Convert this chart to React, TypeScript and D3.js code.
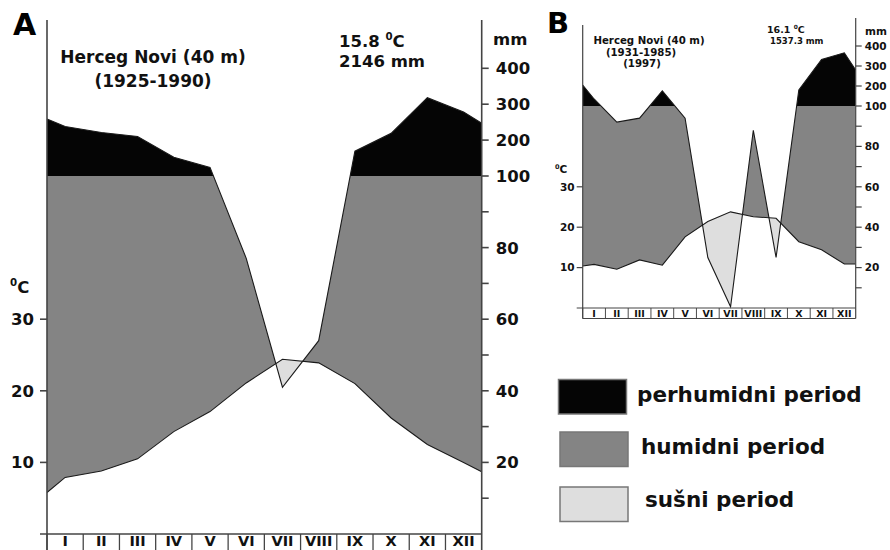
import React from 'react';
import * as d3 from 'd3';

// month labels and values
const MONTHS = ['I', 'II', 'III', 'IV', 'V', 'VI', 'VII', 'VIII', 'IX', 'X', 'XI', 'XII'];

// panel A: Herceg Novi 1925-1990
const TEMP_A = [7.9, 8.8, 10.5, 14.3, 17.1, 21.1, 24.4, 23.9, 21.0, 16.2, 12.5, 10.0];
const TEMP_A_EDGES = [5.8, 8.7];
const PREC_A = [238, 221, 210, 152, 124, 77, 41, 54, 169, 219, 318, 278];
const PREC_A_EDGES = [259, 247];

// panel B: Herceg Novi 1931-1985 (1997)
const TEMP_B = [10.8, 9.6, 11.9, 10.6, 17.6, 21.4, 23.8, 22.6, 22.2, 16.4, 14.4, 10.9];
const TEMP_B_EDGES = [10.4, 10.9];
const PREC_B = [135, 92, 94, 176, 94, 25, 0.6, 88, 25, 180, 333, 366];
const PREC_B_EDGES = [205, 280];

const TEMP_TICKS = [10, 20, 30];
const PREC_TICKS = [20, 40, 60, 80, 100, 200, 300, 400];
const PREC_MINOR = [10, 30, 50, 70, 90];

const LEGEND = ['perhumidni period', 'humidni period', 'sušni period'];

const FONT = '"DejaVu Sans", Verdana, sans-serif';
const C_PER = '#050505';
const C_HUM = '#848484';
const C_ARID = '#dedede';
const C_LINE = '#1a1a1a';
const C_AXIS = '#444';

function Panel(props) {
  const { id, g, temp, tempEdges, prec, precEdges, title, stats } = props;

  const x = d3.scaleLinear().domain([0, 12]).range([g.left, g.right]);
  const yT = d3.scaleLinear().domain([0, 50]).range([g.base, g.y100]);
  const yP = d3.scaleLinear().domain([0, 100, 400]).range([g.base, g.y100, g.y400]);

  const xs = [0].concat(MONTHS.map((m, i) => i + 0.5), [12]);
  const tv = [tempEdges[0]].concat(temp, [tempEdges[1]]);
  const pv = [precEdges[0]].concat(prec, [precEdges[1]]);
  const pts = xs.map((d, i) => ({ x: x(d), t: yT(tv[i]), p: yP(pv[i]) }));

  const tLine = d3.line().x(d => d.x).y(d => d.t)(pts);
  const pLine = d3.line().x(d => d.x).y(d => d.p)(pts);
  const aboveT = d3.area().x(d => d.x).y0(0).y1(d => d.t)(pts);
  const aboveP = d3.area().x(d => d.x).y0(0).y1(d => d.p)(pts);
  const belowP = d3.area().x(d => d.x).y0(g.base).y1(d => d.p)(pts);
  const belowT = d3.area().x(d => d.x).y0(g.base).y1(d => d.t)(pts);
  const perArea = d3.area().x(d => d.x).y0(g.y100).y1(d => d.p)(pts);

  // keep the 100 mm cut on a whole pixel so no seam shows in the white
  const y100 = Math.round(yP(100));
  const w = g.right - g.left;

  return (
    <g>
      <defs>
        <clipPath id={'aboveT-' + id}><path d={aboveT} /></clipPath>
        <clipPath id={'aboveP-' + id}><path d={aboveP} /></clipPath>
        <clipPath id={'below100-' + id}><rect x={g.left} y={y100} width={w} height={g.base - y100} /></clipPath>
        <clipPath id={'above100-' + id}><rect x={g.left} y={0} width={w} height={y100} /></clipPath>
      </defs>

      {/* humid: between temperature and precipitation (max 100 mm) */}
      <g clipPath={'url(#below100-' + id + ')'}>
        <path d={belowP} fill={C_HUM} clipPath={'url(#aboveT-' + id + ')'} />
      </g>
      {/* arid: temperature above precipitation */}
      <path d={belowT} fill={C_ARID} clipPath={'url(#aboveP-' + id + ')'} />
      {/* perhumid: above 100 mm */}
      <g clipPath={'url(#above100-' + id + ')'}>
        <path d={perArea} fill={C_PER} />
      </g>

      <path d={pLine} fill="none" stroke={C_LINE} strokeWidth={1.1} />
      <path d={tLine} fill="none" stroke={C_LINE} strokeWidth={1.1} />

      {/* axes */}
      <line x1={g.left} x2={g.left} y1={g.leftTop} y2={g.rowBottom} stroke={C_AXIS} strokeWidth={g.axisW} />
      <line x1={g.right} x2={g.right} y1={g.rightTop} y2={g.rowBottom} stroke={C_AXIS} strokeWidth={g.axisW} />
      <line x1={g.left - g.tick} x2={g.right} y1={g.base} y2={g.base} stroke={C_AXIS} strokeWidth={g.axisW} />
      {g.boxed && <line x1={g.left} x2={g.right} y1={g.rowBottom} y2={g.rowBottom} stroke={C_AXIS} strokeWidth={g.axisW} />}
      {MONTHS.map((m, i) => (
        <g key={m}>
          <line x1={x(i)} x2={x(i)} y1={g.base} y2={g.rowBottom} stroke={C_AXIS} strokeWidth={g.axisW * 0.8} />
          <text x={x(i + 0.5)} y={g.monthY} textAnchor="middle" fontFamily={FONT} fontWeight="bold" fontSize={g.monthFs} fill="#111">{m}</text>
        </g>
      ))}

      {TEMP_TICKS.map(t => (
        <g key={'t' + t}>
          <line x1={g.left - g.tick} x2={g.left} y1={yT(t)} y2={yT(t)} stroke={C_AXIS} strokeWidth={g.axisW} />
          <text x={g.left - g.tick - g.gapL} y={yT(t)} dy="0.36em" textAnchor="end" fontFamily={FONT} fontWeight="bold" fontSize={g.axisFs} fill="#111">{t}</text>
        </g>
      ))}
      <text x={g.degX} y={g.degY} fontFamily={FONT} fontWeight="bold" fontSize={g.axisFs} fill="#111">
        <tspan fontSize={g.axisFs * 0.62} dy={-g.axisFs * 0.42}>0</tspan>
        <tspan dy={g.axisFs * 0.42}>C</tspan>
      </text>

      {PREC_TICKS.map(p => (
        <g key={'p' + p}>
          <line x1={g.right} x2={g.right + g.tick} y1={yP(p)} y2={yP(p)} stroke={C_AXIS} strokeWidth={g.axisW} />
          <text x={g.right + g.tick + g.gapR} y={yP(p)} dy="0.36em" fontFamily={FONT} fontWeight="bold" fontSize={g.axisFs} fill="#111">{p}</text>
        </g>
      ))}
      {PREC_MINOR.map(p => (
        <line key={'m' + p} x1={g.right} x2={g.right + g.tick} y1={yP(p)} y2={yP(p)} stroke={C_AXIS} strokeWidth={g.axisW} />
      ))}
      <text x={g.mmX} y={g.mmY} fontFamily={FONT} fontWeight="bold" fontSize={g.axisFs} fill="#111">mm</text>

      <text x={g.letterX} y={g.letterY} fontFamily={FONT} fontWeight="bold" fontSize={g.letterFs} fill="#000">{id}</text>
      {title.map((s, i) => (
        <text key={s} x={g.titleX[i]} y={g.titleY[i]} textAnchor="middle" fontFamily={FONT} fontWeight="bold" fontSize={g.titleFs} fill="#111">{s}</text>
      ))}
      <text x={g.statX[0]} y={g.statY[0]} fontFamily={FONT} fontWeight="bold" fontSize={g.statFs[0]} fill="#111">
        {stats[0] + ' '}
        <tspan fontSize={g.statFs[0] * 0.62} dy={-g.statFs[0] * 0.42}>0</tspan>
        <tspan dy={g.statFs[0] * 0.42}>C</tspan>
      </text>
      <text x={g.statX[1]} y={g.statY[1]} fontFamily={FONT} fontWeight="bold" fontSize={g.statFs[1]} fill="#111">{stats[1]}</text>
    </g>
  );
}

const GEO_A = {
  left: 47, right: 481.7, base: 534, y100: 176, y400: 68.3,
  leftTop: 20, rightTop: 20, rowBottom: 560, boxed: false,
  axisW: 1.6, tick: 7, gapL: 6, gapR: 7, axisFs: 16.5,
  monthY: 546, monthFs: 14.5,
  degX: 10, degY: 293, mmX: 493, mmY: 45,
  letterX: 13, letterY: 35, letterFs: 30,
  titleX: [153, 153], titleY: [63, 87], titleFs: 17,
  statX: [339, 339], statY: [47, 67], statFs: [16.5, 16.5],
};

const GEO_B = {
  left: 582.7, right: 855.7, base: 308, y100: 106, y400: 46,
  leftTop: 25, rightTop: 18, rowBottom: 318.5, boxed: true,
  axisW: 1.2, tick: 6, gapL: 2, gapR: 3, axisFs: 10.5,
  monthY: 316.5, monthFs: 9.5,
  degX: 555, degY: 173, mmX: 865, mmY: 35,
  letterX: 547, letterY: 33, letterFs: 29,
  titleX: [649, 641, 642], titleY: [44, 55.5, 67], titleFs: 10.2,
  statX: [767, 770], statY: [33, 44], statFs: [9.5, 8.5],
};

export default function App() {
  const legendY = [379.5, 432, 487];
  const legendX = [558.5, 560, 560];
  const legendFill = [C_PER, C_HUM, C_ARID];
  const legendTx = [637, 641, 645];
  const legendTy = [402, 453.5, 507];
  return (
    <svg width={890} height={550} style={{ position: 'absolute', left: 0, top: 0, background: '#fff' }}>
      <rect width={890} height={550} fill="#fff" />
      <Panel id="A" g={GEO_A} temp={TEMP_A} tempEdges={TEMP_A_EDGES} prec={PREC_A} precEdges={PREC_A_EDGES}
        title={['Herceg Novi (40 m)', '(1925-1990)']} stats={['15.8', '2146 mm']} />
      <Panel id="B" g={GEO_B} temp={TEMP_B} tempEdges={TEMP_B_EDGES} prec={PREC_B} precEdges={PREC_B_EDGES}
        title={['Herceg Novi (40 m)', '(1931-1985)', '(1997)']} stats={['16.1', '1537.3 mm']} />
      {LEGEND.map((s, i) => (
        <g key={s}>
          <rect x={legendX[i]} y={legendY[i]} width={68} height={34.5} fill={legendFill[i]} stroke="#777" strokeWidth={1.5} />
          <text x={legendTx[i]} y={legendTy[i]} fontFamily={FONT} fontWeight="bold" fontSize={21.5} fill="#111">{s}</text>
        </g>
      ))}
    </svg>
  );
}
